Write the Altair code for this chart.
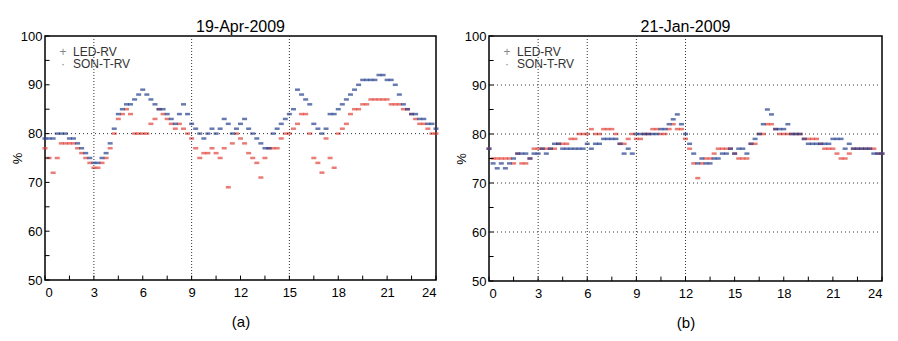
import altair as alt
import pandas as pd

# ---------------- data (15-minute samples, 0..24 h) ----------------
hours = [i * 0.25 for i in range(97)]

apr_son = [79,79,79,80, 80,80,79,79, 78,77,76,75, 74,74,75,76, 78,81,84,85,
           86,86,87,88, 89,88,87,86, 85,85,84,83, 82,84,86,84, 82,81,80,79,
           80,81,80,81, 83,82,80,81, 82,83,81,80, 79,78,77,77, 80,81,82,83,
           84,85,89,88, 87,86,82,81, 80,81,84,84, 85,86,87,88, 89,90,91,91,
           91,91,92,92, 91,91,90,88, 86,85,84,84, 83,83,82,82, 81]
apr_led = [77,75,72,75, 78,78,78,78, 77,76,75,74, 73,73,74,75, 77,80,83,84,
           85,84,80,80, 80,80,82,83, 85,84,83,82, 81,82,81,80, 79,77,75,76,
           76,77,76,75, 77,69,78,80, 79,78,76,75, 74,71,75,77, 77,77,79,80,
           80,81,82,84, 84,80,75,74, 72,79,75,73, 80,81,82,84, 85,85,86,86,
           87,87,87,87, 87,86,86,86, 85,85,84,83, 82,82,81,80, 80]

jan_son = [77,74,73,74, 73,74,75,76, 76,76,75,76, 76,77,76,77, 78,78,77,77,
           77,77,77,77, 78,77,78,78, 79,79,79,79, 78,76,77,76, 80,80,80,80,
           80,80,81,81, 82,83,84,82, 80,78,76,74, 75,74,74,75, 75,76,76,77,
           76,77,77,76, 78,79,80,82, 85,84,81,81, 81,82,80,80, 80,79,78,78,
           78,78,78,78, 79,79,79,77, 78,77,77,77, 77,77,76,76, 76]
jan_led = [77,75,75,75, 75,75,74,76, 74,74,75,77, 77,77,77,77, 77,78,78,78,
           79,79,80,80, 80,81,80,80, 81,81,81,80, 78,78,79,80, 79,79,80,80,
           81,81,80,80, 81,82,81,81, 79,77,74,71, 74,75,75,76, 77,77,77,77,
           76,75,75,75, 78,78,80,80, 82,82,81,80, 80,80,80,80, 80,79,79,79,
           79,78,77,77, 77,76,75,75, 76,77,77,77, 77,77,77,76, 76]

series_names = ["LED-RV", "SON-T-RV"]
series_symbols = ["+", "·"]
series_colors = ["#e2433b", "#27418f"]
x_tick_values = [0, 3, 6, 9, 12, 15, 18, 21, 24]
y_tick_values = [50, 60, 70, 80, 90, 100]
minor_x = [i * 1.5 for i in range(17)]
minor_y = [50 + 5 * i for i in range(11)]

FONT = "Liberation Sans"


def panel(led, son, title, label, gx, gy, width, height):
    df = pd.DataFrame({
        "hour": hours * 2,
        "value": led + son,
        "series": [series_names[0]] * len(hours) + [series_names[1]] * len(hours),
    })
    xs = alt.Scale(domain=[0, 24], nice=False)
    ys = alt.Scale(domain=[50, 100], nice=False)
    xaxis = alt.Axis(values=x_tick_values, title=label, grid=False, ticks=False,
                     labelPadding=6, titlePadding=15, titleFontSize=15,
                     titleFontWeight="normal", labelFontSize=13, domain=False)
    yaxis = alt.Axis(values=y_tick_values, title="%", grid=False, ticks=False,
                     labelPadding=3, titleX=-20.5, titleFontSize=13,
                     titleFontWeight="normal", labelFontSize=13, domain=False)

    pts = alt.Chart(df).mark_tick(orient="horizontal", size=5, thickness=2.5).encode(
        x=alt.X("hour:Q", scale=xs, axis=xaxis),
        y=alt.Y("value:Q", scale=ys, axis=yaxis),
        color=alt.Color("series:N", scale=alt.Scale(domain=series_names, range=series_colors),
                        legend=None),
    )

    layers = [pts]
    if gx:
        layers.append(alt.Chart(pd.DataFrame({"hour": gx})).mark_rule(
            color="#333", strokeDash=[1, 2], strokeWidth=1).encode(
            x=alt.X("hour:Q", scale=xs, axis=xaxis)))
    if gy:
        layers.append(alt.Chart(pd.DataFrame({"value": gy})).mark_rule(
            color="#333", strokeDash=[1, 3], strokeWidth=1).encode(
            y=alt.Y("value:Q", scale=ys, axis=yaxis)))
    # inward ticks
    layers.append(alt.Chart(pd.DataFrame({"hour": minor_x})).mark_rule(color="black").encode(
        x=alt.X("hour:Q", scale=xs, axis=xaxis), y=alt.datum(50), y2=alt.datum(50.9)))
    layers.append(alt.Chart(pd.DataFrame({"value": minor_y})).mark_rule(color="black").encode(
        y=alt.Y("value:Q", scale=ys, axis=yaxis), x=alt.datum(0), x2=alt.datum(0.28)))

    for i, (name, sym) in enumerate(zip(series_names, series_symbols)):
        row = pd.DataFrame({"name": [name], "sym": [sym]})
        ypix = 16 + 12 * i
        layers.append(alt.Chart(row).mark_text(align="left", baseline="middle", font=FONT,
                                               fontSize=12, color="#333").encode(
            text="name:N", x=alt.value(28), y=alt.value(ypix)))
        layers.append(alt.Chart(row).mark_text(align="center", baseline="middle", font=FONT,
                                               fontSize=12, color="#888").encode(
            text="sym:N", x=alt.value(18), y=alt.value(ypix)))

    return alt.layer(*layers).properties(
        width=width, height=height,
        title=alt.TitleParams(title, fontSize=16, font=FONT, fontWeight="normal",
                              color="black", offset=-5),
    )


left = panel(apr_led, apr_son, "19-Apr-2009", "(a)", [3, 9, 15], [80], 391, 244)
right = panel(jan_led, jan_son, "21-Jan-2009", "(b)", [3, 6, 9, 12], [60, 70, 80, 90], 393, 245)

chart = alt.hconcat(left, right, spacing=14).configure_view(
    stroke="black", strokeWidth=1.5
).configure_axis(labelFont=FONT, titleFont=FONT, labelColor="black", titleColor="black",
                 grid=False
).properties(padding={"left": 2, "top": 10, "right": 0, "bottom": 0}, background="white")

chart.save("out.html", embed_options={"renderer": "svg", "actions": False})
